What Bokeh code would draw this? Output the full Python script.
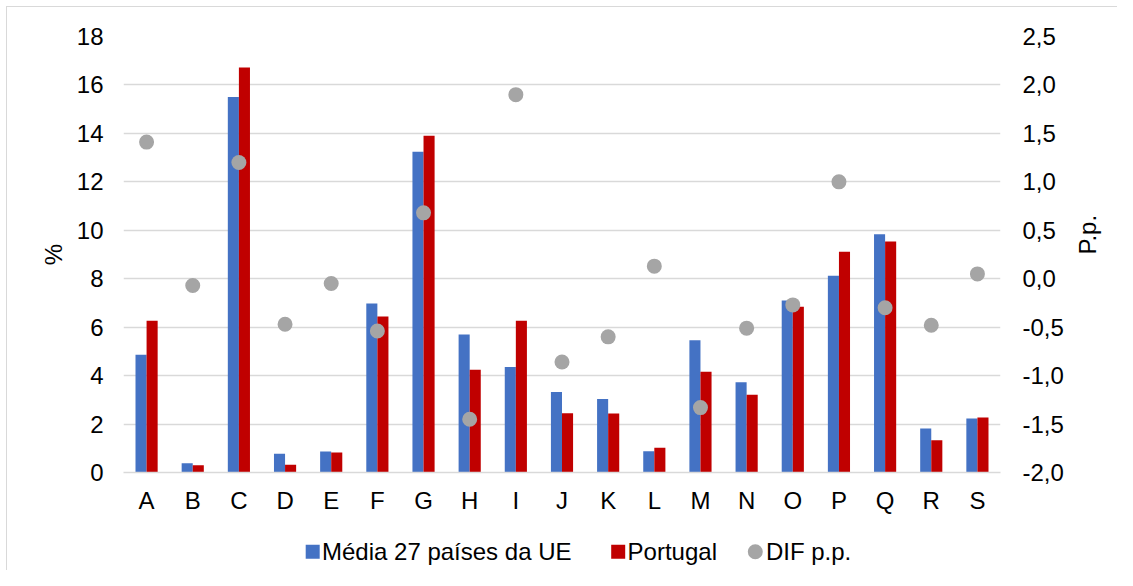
import math
from bokeh.plotting import figure
from bokeh.layouts import column
from bokeh.models import (ColumnDataSource, FactorRange, Range1d, LinearAxis,
                          FixedTicker, CustomJSTickFormatter)
from bokeh.core.properties import value
from bokeh.transform import dodge
from bokeh.embed import file_html
from bokeh.resources import INLINE

categories = ["A", "B", "C", "D", "E", "F", "G", "H", "I", "J",
              "K", "L", "M", "N", "O", "P", "Q", "R", "S"]
eu_avg = [4.86, 0.38, 15.5, 0.77, 0.87, 6.98, 13.24, 5.70, 4.36, 3.32,
          3.03, 0.88, 5.46, 3.73, 7.10, 8.12, 9.84, 1.82, 2.23]
portugal = [6.26, 0.30, 16.72, 0.32, 0.83, 6.44, 13.90, 4.24, 6.26, 2.45,
            2.44, 1.02, 4.16, 3.21, 6.84, 9.11, 9.54, 1.33, 2.27]
dif_pp = [1.41, -0.07, 1.20, -0.47, -0.05, -0.54, 0.68, -1.45, 1.90, -0.86,
          -0.60, 0.13, -1.33, -0.51, -0.27, 1.00, -0.30, -0.48, 0.05]
left_ticks = [0, 2, 4, 6, 8, 10, 12, 14, 16, 18]
right_ticks = [-2.0, -1.5, -1.0, -0.5, 0.0, 0.5, 1.0, 1.5, 2.0, 2.5]
legend_labels = ["Média 27 países da UE", "Portugal", "DIF p.p."]

FONT = "Liberation Sans"
FS = "24px"
BLUE = "#4472C4"
RED = "#C00000"
GRAY = "#A5A5A5"
GRID = "#D9D9D9"

src = ColumnDataSource(dict(cat=categories, eu=eu_avg, pt=portugal, dif=dif_pp))

top_lines = ("linear-gradient(#d9d9d9,#d9d9d9) 6px 6px / 1px calc(100% - 6px) no-repeat, "
             "linear-gradient(#d9d9d9,#d9d9d9) 6px 6px / calc(100% - 6px) 1px no-repeat, white")
side_line = "linear-gradient(#d9d9d9,#d9d9d9) 6px 0px / 1px 100% no-repeat, white"

p = figure(width=1117, height=520, x_range=FactorRange(*categories),
           y_range=Range1d(0, 18), output_backend="svg", toolbar_location=None,
           min_border_left=123, min_border_right=107, min_border_top=36,
           min_border_bottom=48)
p.frame_align = False
p.styles = {"background": top_lines}
p.extra_y_ranges = {"dif": Range1d(-2.0, 2.5)}
p.outline_line_color = None
p.background_fill_color = "white"
p.border_fill_alpha = 0

r_eu = p.vbar(x=dodge("cat", -0.12, range=p.x_range), top="eu", width=0.24,
              source=src, fill_color=BLUE, line_color=None)
r_pt = p.vbar(x=dodge("cat", 0.12, range=p.x_range), top="pt", width=0.24,
              source=src, fill_color=RED, line_color=None)
r_dif = p.scatter(x="cat", y="dif", source=src, y_range_name="dif",
                  size=15, fill_color=GRAY, line_color=None)

# grid
p.xgrid.grid_line_color = None
p.ygrid.grid_line_color = GRID
p.ygrid.grid_line_width = 1.3
p.ygrid.ticker = FixedTicker(ticks=left_ticks)

# x axis
xa = p.xaxis[0]
xa.axis_line_color = GRID
xa.axis_line_width = 1.3
xa.major_tick_line_color = None
xa.major_tick_out = 0
xa.major_tick_in = 0
xa.minor_tick_line_color = None
xa.major_label_text_font = FONT
xa.major_label_text_font_size = FS
xa.major_label_text_color = "black"
xa.major_label_standoff = 14

# left y axis
ya = p.yaxis[0]
ya.ticker = FixedTicker(ticks=left_ticks)
ya.axis_line_color = None
ya.major_tick_line_color = None
ya.major_tick_out = 0
ya.major_tick_in = 0
ya.minor_tick_line_color = None
ya.major_label_text_font = FONT
ya.major_label_text_font_size = FS
ya.major_label_text_color = "black"
ya.major_label_standoff = 20
ya.axis_label = "%"
ya.axis_label_text_font = FONT
ya.axis_label_text_font_size = FS
ya.axis_label_text_font_style = "normal"
ya.axis_label_text_color = "black"
ya.axis_label_standoff = 7

# right y axis
ra = LinearAxis(y_range_name="dif", ticker=FixedTicker(ticks=right_ticks),
                formatter=CustomJSTickFormatter(code="return tick.toFixed(1).replace('.', ',');"))
ra.axis_line_color = None
ra.major_tick_line_color = None
ra.major_tick_out = 0
ra.major_tick_in = 0
ra.minor_tick_line_color = None
ra.major_label_text_font = FONT
ra.major_label_text_font_size = FS
ra.major_label_text_color = "black"
ra.major_label_standoff = 22
ra.axis_label = "P.p."
ra.axis_label_text_font = FONT
ra.axis_label_text_font_size = FS
ra.axis_label_text_font_style = "normal"
ra.axis_label_text_color = "black"
ra.axis_label_standoff = 21
ra.axis_label_orientation = math.pi / 2
p.add_layout(ra, "right")

# legend strip: a separate 1117x50 figure whose data units are screen pixels
q = figure(width=1117, height=50, x_range=Range1d(0, 1117), y_range=Range1d(0, 50),
           output_backend="svg", toolbar_location=None,
           x_axis_location=None, y_axis_location=None,
           min_border_left=0, min_border_right=0, min_border_top=0,
           min_border_bottom=0)
q.frame_align = False
q.styles = {"background": side_line}
q.grid.visible = False
q.outline_line_color = None
q.background_fill_alpha = 0
q.border_fill_alpha = 0

# legend layout (pixel positions inside the strip)
swatch_x = [312.2, 617.7, 754.8]
swatch_y = 18.8
text_x = [321.5, 627.1, 765.4]
text_y = 19.0
swatch_marker = ["square", "square", "circle"]
swatch_size = [14, 14, 15]
swatch_color = [BLUE, RED, GRAY]

q.scatter(x=swatch_x, y=[swatch_y] * 3, marker=swatch_marker, size=swatch_size,
          fill_color=swatch_color, line_color=None)
q.text(x=text_x, y=[text_y] * 3, text=legend_labels,
       text_font=value(FONT), text_font_size=FS, text_color="black",
       text_baseline="middle", text_align="left")

layout = column(p, q, spacing=0)
open("out.html", "w").write(file_html(layout, INLINE))
